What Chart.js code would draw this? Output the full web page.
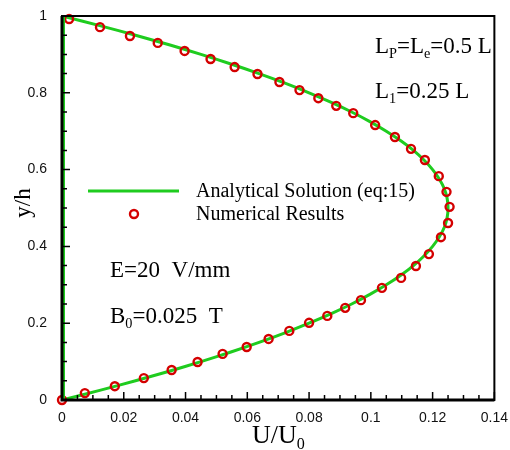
<!DOCTYPE html>
<html>
<head>
<meta charset="UTF-8">
<title>Velocity profile</title>
<script src="https://cdn.jsdelivr.net/npm/chart.js@4.4.1/dist/chart.umd.min.js"></script>
<style>
  body { margin: 0; background: #fff; }
</style>
</head>
<body>
<canvas id="canvas" width="510" height="450"></canvas>
<script>
// analytical profile (eq:15), y/h against U/U0
var lineY = [0, 0.025, 0.05, 0.075, 0.1, 0.125, 0.15, 0.175, 0.2, 0.225, 0.25, 0.275, 0.3, 0.325, 0.35, 0.375, 0.4, 0.425, 0.45, 0.475, 0.5,
             0.525, 0.55, 0.575, 0.6, 0.625, 0.65, 0.675, 0.7, 0.725, 0.75, 0.775, 0.8, 0.825, 0.85, 0.875, 0.9, 0.925, 0.95, 0.975, 1];
var lineU = [0, 0.0122, 0.0238, 0.0347, 0.045, 0.0547, 0.0638, 0.0722, 0.08, 0.0872, 0.0938, 0.0997, 0.105, 0.1097, 0.1138, 0.1172, 0.12, 0.1222, 0.1238, 0.1247, 0.125,
             0.1247, 0.1238, 0.1222, 0.12, 0.1172, 0.1138, 0.1097, 0.105, 0.0997, 0.0938, 0.0872, 0.08, 0.0722, 0.0638, 0.0547, 0.045, 0.0347, 0.0238, 0.0122, 0];

// numerical results
var numY = [0, 0.018, 0.036, 0.057, 0.078, 0.099, 0.120, 0.138, 0.159, 0.180, 0.201, 0.219, 0.240, 0.260, 0.292, 0.318, 0.349, 0.380, 0.424, 0.461,
            0.503, 0.542, 0.583, 0.625, 0.654, 0.685, 0.716, 0.747, 0.766, 0.786, 0.807, 0.828, 0.849, 0.867, 0.888, 0.909, 0.930, 0.948, 0.971, 0.992];
var numU = [0, 0.0074, 0.0171, 0.0265, 0.0355, 0.0439, 0.0520, 0.0598, 0.0669, 0.0736, 0.0800, 0.0859, 0.0917, 0.0968, 0.1036, 0.1098, 0.1146, 0.1188, 0.1227, 0.1250,
            0.1255, 0.1245, 0.1220, 0.1175, 0.1130, 0.1078, 0.1014, 0.0943, 0.0888, 0.0830, 0.0769, 0.0704, 0.0633, 0.0559, 0.0481, 0.0397, 0.0310, 0.0220, 0.0123, 0.0023];

var xTicks = [0, 0.02, 0.04, 0.06, 0.08, 0.1, 0.12, 0.14];
var xTickLabels = ["0", "0.02", "0.04", "0.06", "0.08", "0.1", "0.12", "0.14"];
var yTicks = [0, 0.2, 0.4, 0.6, 0.8, 1];
var yTickLabels = ["0", "0.2", "0.4", "0.6", "0.8", "1"];

var GREEN = "#1fcc1f";
var RED = "#d40000";
var SERIF = "'Liberation Serif', 'Times New Roman', serif";

function pairs(xs, ys) {
  var out = [];
  for (var i = 0; i < xs.length; i++) out.push({ x: xs[i], y: ys[i] });
  return out;
}

// text with subscripts: parts = [[text, isSub], ...]
function drawRich(ctx, parts, x, y, size) {
  ctx.textBaseline = "alphabetic";
  ctx.textAlign = "left";
  parts.forEach(function (p) {
    var s = p[1] ? size * 0.62 : size;
    ctx.font = s + "px " + SERIF;
    ctx.fillText(p[0], x, p[1] ? y + size * 0.22 : y);
    x += ctx.measureText(p[0]).width;
  });
}

var decorations = {
  id: "decorations",
  afterDatasetsDraw: function (chart) {
    var ctx = chart.ctx, a = chart.chartArea;
    var sx = chart.scales.x, sy = chart.scales.y;
    ctx.save();

    // green strip along the wall
    ctx.strokeStyle = GREEN;
    ctx.lineWidth = 2;
    ctx.beginPath();
    ctx.moveTo(a.left + 2, a.top);
    ctx.lineTo(a.left + 2, a.bottom);
    ctx.stroke();

    // frame
    ctx.strokeStyle = "#000";
    ctx.lineWidth = 2;
    ctx.strokeRect(a.left, a.top, a.right - a.left, a.bottom - a.top);
    ctx.lineWidth = 3;
    ctx.beginPath();
    ctx.moveTo(a.left, a.top);
    ctx.lineTo(a.left, a.bottom);
    ctx.lineTo(a.right, a.bottom);
    ctx.stroke();

    // inward ticks, major and minor
    ctx.lineWidth = 1.5;
    ctx.beginPath();
    for (var i = 0; i <= 28; i++) {
      var px = sx.getPixelForValue(i * 0.005);
      var len = i % 4 === 0 ? 8 : 5;
      ctx.moveTo(px, a.bottom);
      ctx.lineTo(px, a.bottom - len);
    }
    for (var j = 0; j <= 20; j++) {
      var py = sy.getPixelForValue(j * 0.05);
      var l2 = j % 4 === 0 ? 8 : 5;
      ctx.moveTo(a.left, py);
      ctx.lineTo(a.left + l2, py);
    }
    ctx.stroke();

    // legend
    ctx.strokeStyle = GREEN;
    ctx.lineWidth = 3;
    ctx.beginPath();
    ctx.moveTo(88, 191);
    ctx.lineTo(179, 191);
    ctx.stroke();
    ctx.strokeStyle = RED;
    ctx.lineWidth = 2.4;
    ctx.beginPath();
    ctx.arc(134, 214, 4, 0, Math.PI * 2);
    ctx.stroke();
    ctx.fillStyle = "#000";
    ctx.font = "20px " + SERIF;
    ctx.textBaseline = "middle";
    ctx.fillText("Analytical Solution (eq:15)", 196, 192);
    ctx.fillText("Numerical Results", 196, 215);

    // parameters
    drawRich(ctx, [["L", 0], ["P", 1], ["=L", 0], ["e", 1], ["=0.5 L", 0]], 375, 53, 23);
    drawRich(ctx, [["L", 0], ["1", 1], ["=0.25 L", 0]], 375, 98, 23);
    drawRich(ctx, [["E=20  V/mm", 0]], 110, 277, 23);
    drawRich(ctx, [["B", 0], ["0", 1], ["=0.025  T", 0]], 110, 323, 23);

    // axis titles
    drawRich(ctx, [["U/U", 0], ["0", 1]], 252, 443, 26);
    ctx.translate(30, 203);
    ctx.rotate(-Math.PI / 2);
    ctx.textAlign = "center";
    ctx.textBaseline = "alphabetic";
    ctx.font = "23px " + SERIF;
    ctx.fillText("y/h", 0, 0);
    ctx.restore();
  }
};

new Chart(document.getElementById("canvas"), {
  type: "scatter",
  data: {
    datasets: [
      {
        label: "Analytical Solution (eq:15)",
        data: pairs(lineU, lineY),
        showLine: true,
        borderColor: GREEN,
        borderWidth: 3,
        pointRadius: 0,
        tension: 0.3,
        order: 2
      },
      {
        label: "Numerical Results",
        data: pairs(numU, numY),
        pointRadius: 4,
        pointBorderWidth: 2.4,
        pointBorderColor: RED,
        pointBackgroundColor: "rgba(0,0,0,0)",
        clip: false,
        order: 1
      }
    ]
  },
  options: {
    responsive: false,
    animation: false,
    layout: { padding: { top: 16, right: 14, left: 0, bottom: 0 } },
    plugins: { legend: { display: false }, tooltip: { enabled: false } },
    scales: {
      x: {
        type: "linear",
        min: 0,
        max: 0.14,
        grid: { display: false },
        border: { display: false },
        afterBuildTicks: function (s) { s.ticks = xTicks.map(function (v) { return { value: v }; }); },
        afterFit: function (s) { s.height = 50; },
        ticks: {
          padding: 2,
          maxRotation: 0,
          color: "#111",
          font: { family: "'Liberation Sans', Arial, sans-serif", size: 14 },
          callback: function (v) { return xTickLabels[xTicks.indexOf(v)]; }
        }
      },
      y: {
        type: "linear",
        min: 0,
        max: 1,
        grid: { display: false },
        border: { display: false },
        afterBuildTicks: function (s) { s.ticks = yTicks.map(function (v) { return { value: v }; }); },
        afterFit: function (s) { s.width = 62; },
        ticks: {
          padding: 7,
          color: "#111",
          font: { family: "'Liberation Sans', Arial, sans-serif", size: 14 },
          callback: function (v) { return yTickLabels[yTicks.indexOf(v)]; }
        }
      }
    }
  },
  plugins: [decorations]
});
</script>
</body>
</html>
